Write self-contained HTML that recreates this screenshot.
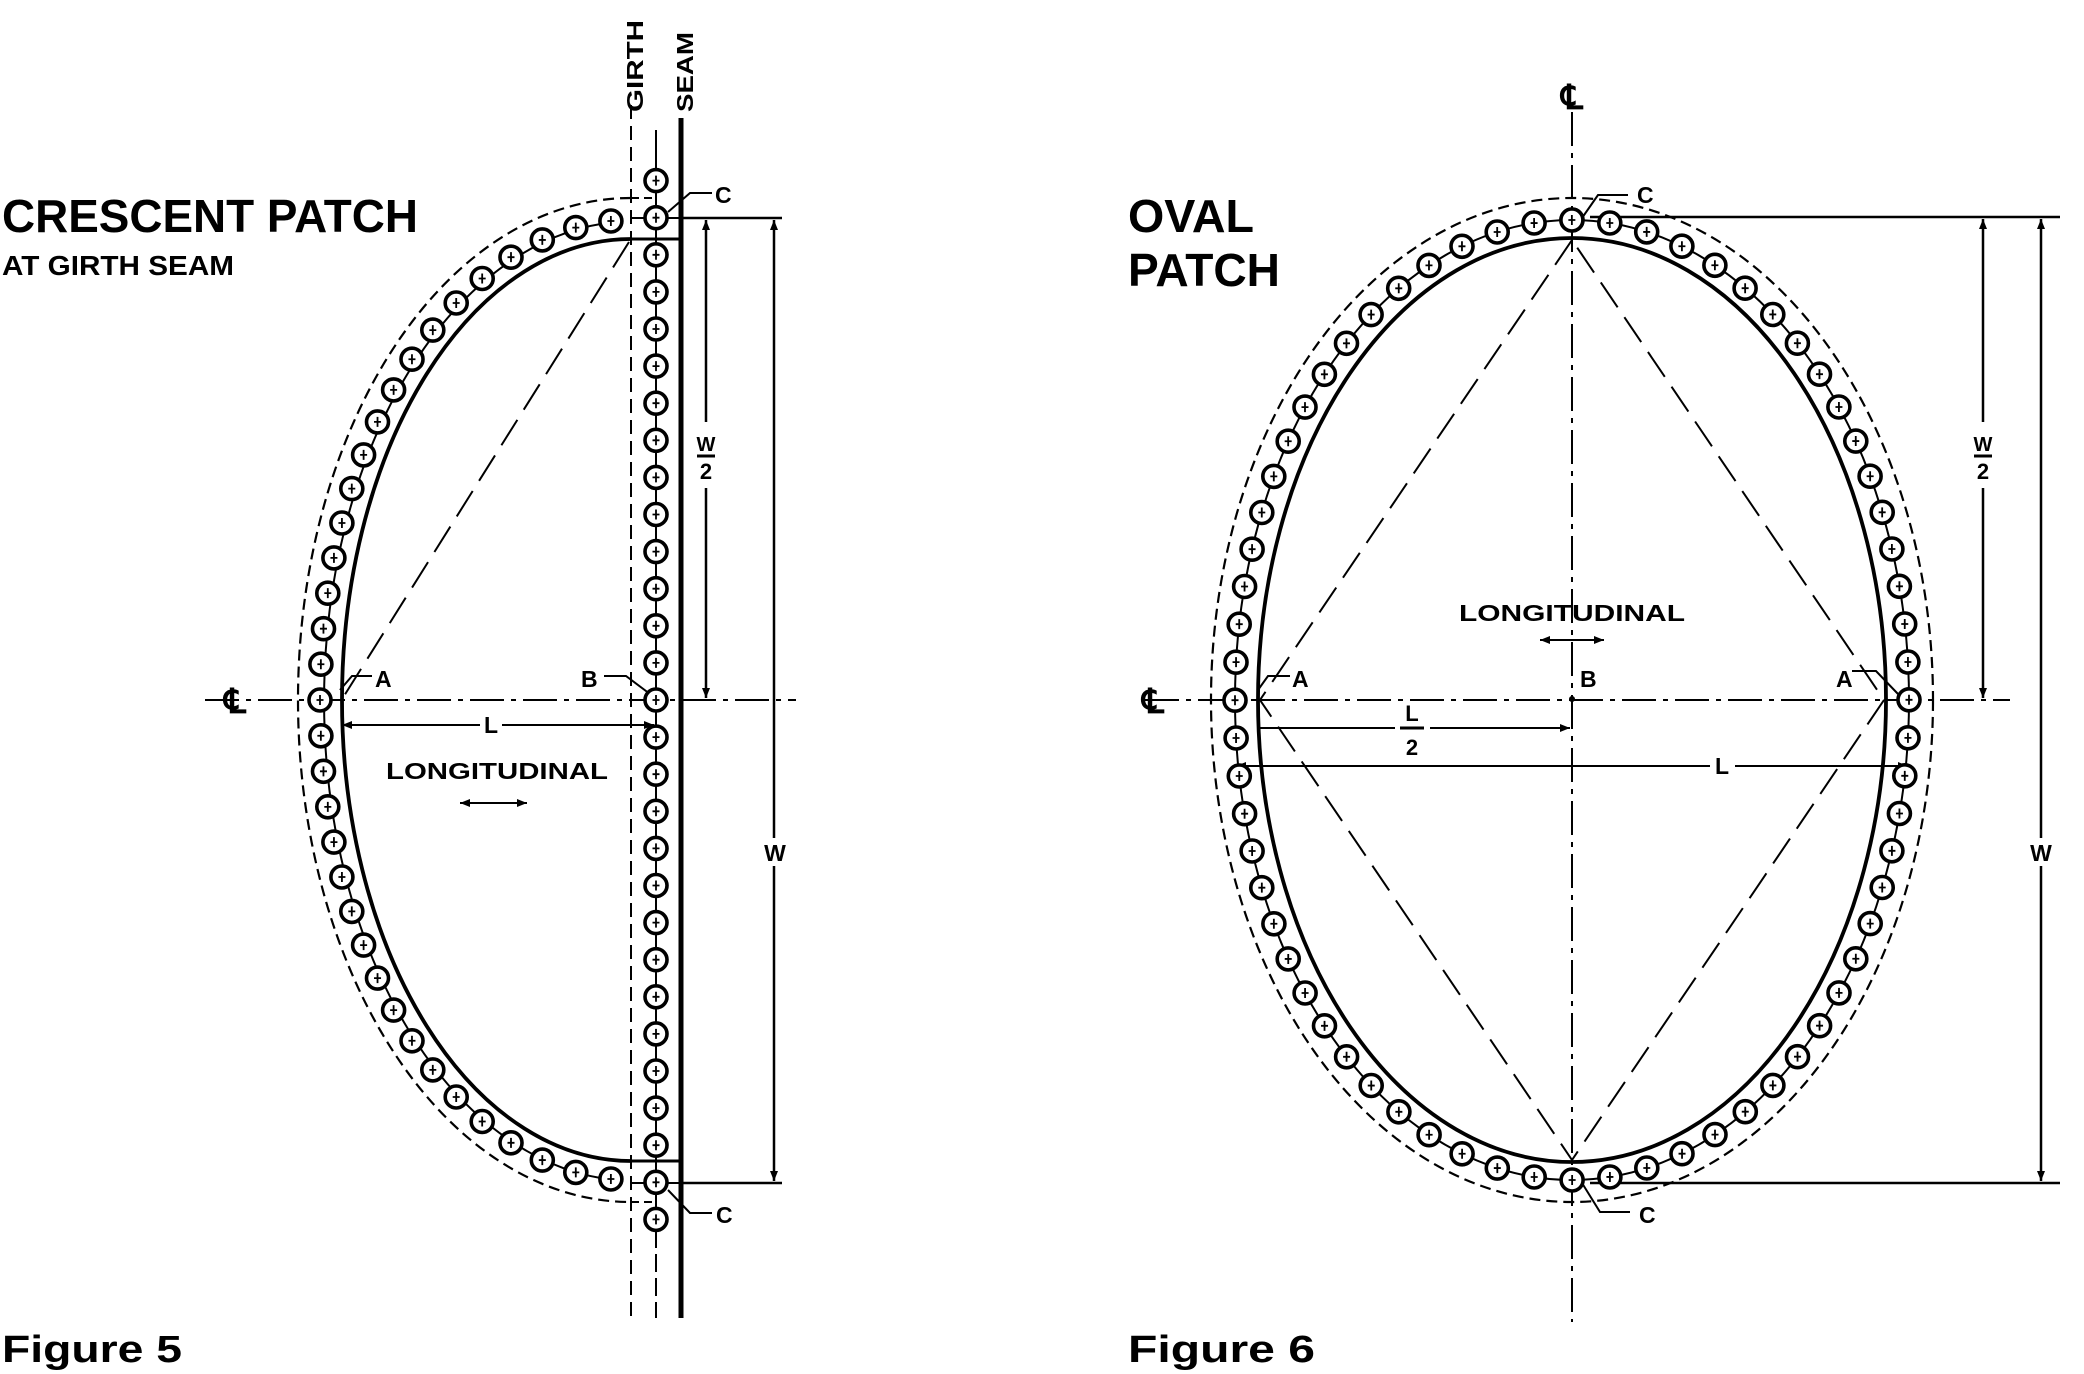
<!DOCTYPE html>
<html><head><meta charset="utf-8"><style>
html,body{margin:0;padding:0;background:#fff;}
svg{display:block;}
text{font-family:"Liberation Sans",Arial,sans-serif;font-weight:bold;fill:#000;}
</style></head><body>
<svg id="s" width="2084" height="1374" viewBox="0 0 2084 1374" xmlns="http://www.w3.org/2000/svg">
<defs>
<marker id="ar" viewBox="0 0 10 10" refX="10" refY="5" markerWidth="14" markerHeight="10" markerUnits="userSpaceOnUse" orient="auto-start-reverse"><path d="M0,1 L10,5 L0,9 Z" fill="#000"/></marker>
</defs>

<!-- ============ FIGURE 5 ============ -->
<g fill="none" stroke="#000">
  <path d="M631,198 A333,502 0 0 0 631,1202" stroke-width="2.2" stroke-dasharray="11 6"/>
  <line x1="631" y1="198" x2="656" y2="198" stroke-width="2" stroke-dasharray="8 5"/>
  <line x1="631" y1="1202" x2="656" y2="1202" stroke-width="2" stroke-dasharray="8 5"/>
  <path d="M615,222 A311,480 0 0 0 615,1180" stroke-width="2"/>
  <path d="M631,239 A289,461 0 0 0 631,1161" stroke-width="3.8"/>
  <line x1="631" y1="239" x2="681" y2="239" stroke-width="3"/>
  <line x1="631" y1="1161" x2="681" y2="1161" stroke-width="3"/>
  <line x1="631" y1="218" x2="681" y2="218" stroke-width="2"/>
  <line x1="631" y1="1183" x2="681" y2="1183" stroke-width="2"/>
  <line x1="631" y1="105" x2="631" y2="1318" stroke-width="2" stroke-dasharray="14 7"/>
  <line x1="656" y1="130" x2="656" y2="1230" stroke-width="2"/>
  <line x1="656" y1="1230" x2="656" y2="1318" stroke-width="2" stroke-dasharray="18 6"/>
  <line x1="681" y1="118" x2="681" y2="1318" stroke-width="5"/>
  <line x1="205" y1="700" x2="796" y2="700" stroke-width="2" stroke-dasharray="34 7 5 7"/>
  <line x1="629" y1="242" x2="344" y2="696" stroke-width="2" stroke-dasharray="30 12"/>
  <line x1="681" y1="218" x2="782" y2="218" stroke-width="2.5"/>
  <line x1="681" y1="1183" x2="782" y2="1183" stroke-width="2.5"/>
  <line x1="706" y1="220" x2="706" y2="698" stroke-width="2.5" marker-start="url(#ar)" marker-end="url(#ar)"/>
  <line x1="774" y1="220" x2="774" y2="1181" stroke-width="2.5" marker-start="url(#ar)" marker-end="url(#ar)"/>
  <line x1="342" y1="725" x2="480" y2="725" stroke-width="2" marker-start="url(#ar)"/>
  <line x1="502" y1="725" x2="654" y2="725" stroke-width="2" marker-end="url(#ar)"/>
  <line x1="460" y1="803" x2="527" y2="803" stroke-width="2" marker-start="url(#ar)" marker-end="url(#ar)"/>
  <polyline points="340,690 352,676 372,676" stroke-width="2"/>
  <polyline points="604,676 626,676 650,694" stroke-width="2"/>
  <polyline points="668,212 690,193 712,193" stroke-width="2"/>
  <polyline points="668,1190 690,1213 712,1213" stroke-width="2"/>
</g>

<!-- ============ FIGURE 6 ============ -->
<g fill="none" stroke="#000">
  <ellipse cx="1572" cy="700" rx="361" ry="502" stroke-width="2.2" stroke-dasharray="11 6"/>
  <ellipse cx="1572" cy="700" rx="337" ry="480" stroke-width="2"/>
  <ellipse cx="1572" cy="700" rx="314" ry="462" stroke-width="3.8"/>
  <line x1="1572" y1="112" x2="1572" y2="1322" stroke-width="2" stroke-dasharray="34 7 5 7"/>
  <line x1="1145" y1="700" x2="2010" y2="700" stroke-width="2" stroke-dasharray="34 7 5 7"/>
  <polygon points="1572,240 1260,700 1572,1160 1884,700" stroke-width="2" stroke-dasharray="30 12"/>
  <line x1="1590" y1="217" x2="2060" y2="217" stroke-width="2.5"/>
  <line x1="1590" y1="1183" x2="2060" y2="1183" stroke-width="2.5"/>
  <line x1="1983" y1="219" x2="1983" y2="698" stroke-width="2.5" marker-start="url(#ar)" marker-end="url(#ar)"/>
  <line x1="2041" y1="219" x2="2041" y2="1181" stroke-width="2.5" marker-start="url(#ar)" marker-end="url(#ar)"/>
  <line x1="1260" y1="728" x2="1395" y2="728" stroke-width="2"/>
  <line x1="1430" y1="728" x2="1570" y2="728" stroke-width="2" marker-end="url(#ar)"/>
  <line x1="1236" y1="766" x2="1710" y2="766" stroke-width="2" marker-start="url(#ar)"/>
  <line x1="1735" y1="766" x2="1908" y2="766" stroke-width="2" marker-end="url(#ar)"/>
  <line x1="1540" y1="640" x2="1604" y2="640" stroke-width="2" marker-start="url(#ar)" marker-end="url(#ar)"/>
  <polyline points="1258,690 1268,676 1290,676" stroke-width="2"/>
  <polyline points="1852,671 1876,671 1898,694" stroke-width="2"/>
  <polyline points="1582,218 1598,195 1628,195" stroke-width="2"/>
  <polyline points="1582,1183 1600,1212 1630,1212" stroke-width="2"/>
</g>

<g id="holes" stroke="#000" fill="none"></g>

<text x="2" y="232" font-size="46" textLength="416" lengthAdjust="spacingAndGlyphs">CRESCENT PATCH</text>
<text x="2" y="275" font-size="28" textLength="232" lengthAdjust="spacingAndGlyphs">AT GIRTH SEAM</text>
<text x="2" y="1362" font-size="38" textLength="180" lengthAdjust="spacingAndGlyphs">Figure 5</text>
<text x="375" y="687" font-size="23">A</text>
<text x="581" y="687" font-size="23">B</text>
<text x="715" y="203" font-size="23">C</text>
<text x="716" y="1223" font-size="23">C</text>
<text x="491" y="733" font-size="23" text-anchor="middle">L</text>
<text x="497" y="779" font-size="23" text-anchor="middle" textLength="222" lengthAdjust="spacingAndGlyphs">LONGITUDINAL</text>
<rect x="762" y="838" width="24" height="28" fill="#fff"/>
<text x="775" y="861" font-size="23" text-anchor="middle">W</text>
<rect x="694" y="422" width="24" height="66" fill="#fff"/>
<text x="706" y="451" font-size="20" text-anchor="middle">W</text>
<line x1="697" y1="456" x2="715" y2="456" stroke="#000" stroke-width="3"/>
<text x="706" y="479" font-size="22" text-anchor="middle">2</text>
<text font-size="23" transform="translate(643,112) rotate(-90)" textLength="92" lengthAdjust="spacingAndGlyphs">GIRTH</text>
<text font-size="23" transform="translate(693,112) rotate(-90)" textLength="80" lengthAdjust="spacingAndGlyphs">SEAM</text>
<text x="235" y="713" font-size="34" text-anchor="middle" font-family="DejaVu Sans">℄</text>

<circle cx="1572" cy="699" r="3" fill="#000"/>
<text x="1128" y="232" font-size="46" textLength="126" lengthAdjust="spacingAndGlyphs">OVAL</text>
<text x="1128" y="286" font-size="46" textLength="152" lengthAdjust="spacingAndGlyphs">PATCH</text>
<text x="1128" y="1362" font-size="38" textLength="187" lengthAdjust="spacingAndGlyphs">Figure 6</text>
<text x="1292" y="687" font-size="23">A</text>
<text x="1836" y="687" font-size="23">A</text>
<text x="1580" y="687" font-size="23">B</text>
<text x="1637" y="203" font-size="23">C</text>
<text x="1639" y="1223" font-size="23">C</text>
<text x="1572" y="621" font-size="23" text-anchor="middle" textLength="226" lengthAdjust="spacingAndGlyphs">LONGITUDINAL</text>
<text x="1412" y="721" font-size="22" text-anchor="middle">L</text>
<line x1="1400" y1="728" x2="1424" y2="728" stroke="#000" stroke-width="3"/>
<text x="1412" y="755" font-size="22" text-anchor="middle">2</text>
<text x="1722" y="774" font-size="23" text-anchor="middle">L</text>
<rect x="2029" y="838" width="24" height="28" fill="#fff"/>
<text x="2041" y="861" font-size="23" text-anchor="middle">W</text>
<rect x="1971" y="422" width="24" height="66" fill="#fff"/>
<text x="1983" y="451" font-size="20" text-anchor="middle">W</text>
<line x1="1974" y1="456" x2="1992" y2="456" stroke="#000" stroke-width="3"/>
<text x="1983" y="479" font-size="22" text-anchor="middle">2</text>
<text x="1153" y="713" font-size="34" text-anchor="middle" font-family="DejaVu Sans">℄</text>
<rect x="1558" y="76" width="28" height="36" fill="#fff"/>
<text x="1572" y="109" font-size="34" text-anchor="middle" font-family="DejaVu Sans">℄</text>
</svg>
<script>
(function(){
var g=document.getElementById('holes');var NS='http://www.w3.org/2000/svg';
function hole(x,y){
 var c=document.createElementNS(NS,'circle');c.setAttribute('cx',x.toFixed(1));c.setAttribute('cy',y.toFixed(1));c.setAttribute('r','11');c.setAttribute('fill','#fff');c.setAttribute('stroke-width','3.6');g.appendChild(c);
 var p=document.createElementNS(NS,'path');p.setAttribute('d','M'+(x-3.5)+','+y+'h7M'+x+','+(y-5)+'v10');p.setAttribute('stroke-width','1.8');g.appendChild(p);
}
function arcHoles(cx,cy,rx,ry,a0,a1,n,skipFirst){
 var N=4000,pts=[],len=[0];
 for(var i=0;i<=N;i++){var a=a0+(a1-a0)*i/N;pts.push([cx+rx*Math.cos(a),cy+ry*Math.sin(a)]);
  if(i>0){len.push(len[i-1]+Math.hypot(pts[i][0]-pts[i-1][0],pts[i][1]-pts[i-1][1]));}}
 var L=len[N],j=0;
 for(var k=skipFirst?1:0;k<=n;k++){var t=L*k/n;while(j<N&&len[j+1]<t)j++;hole(pts[j][0],pts[j][1]);}
}
for(var k=-14;k<=14;k++){hole(656,700+k*37.1);}
var d=Math.acos(20/311);
arcHoles(631,700,311,480,Math.PI,Math.PI+d,17,false);
arcHoles(631,700,311,480,Math.PI,Math.PI-d,17,true);
arcHoles(1572,700,337,480,-Math.PI/2,0,17,false);
arcHoles(1572,700,337,480,0,Math.PI/2,17,true);
arcHoles(1572,700,337,480,Math.PI/2,Math.PI,17,true);
arcHoles(1572,700,337,480,Math.PI,1.5*Math.PI,17,true);
})();
</script>
</body></html>
